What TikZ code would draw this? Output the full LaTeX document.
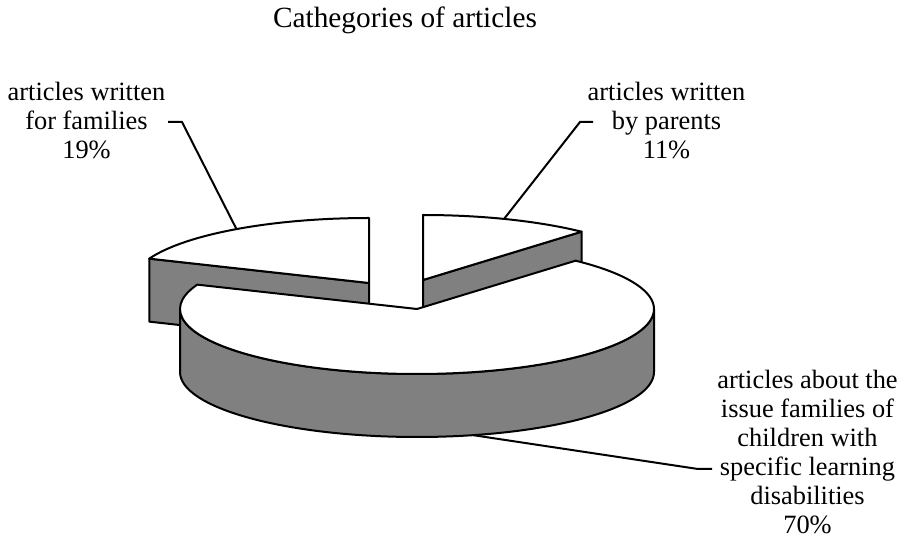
\documentclass[tikz,border=0pt]{standalone}
\usepackage{fontspec}
\setmainfont{Liberation Serif}
\usetikzlibrary{calc}
\definecolor{sidegray}{RGB}{128,128,128}
\begin{document}
\begin{tikzpicture}[x=0.75pt,y=0.75pt,
  edge/.style={line width=1.5pt, line join=round},
  sidef/.style={edge, fill=sidegray},
  topf/.style={edge, fill=white},
  leader/.style={line width=1.5pt, line join=miter},
  lbl/.style={align=center, inner sep=0pt, anchor=base, font=\fontsize{19.8}{21.75}\selectfont},
  ttl/.style={inner sep=0pt, anchor=base, font=\fontsize{22}{26}\selectfont},
  er/.style={x radius=237, y radius=65}
]
\useasboundingbox (0,0) rectangle (908,539);

% slice centres (top and bottom)
\coordinate (B)   at (417,230);
\coordinate (Bl)  at (417,167);
\coordinate (C1)  at (369,256);
\coordinate (C1l) at (369,193);
\coordinate (C2)  at (423,259);
\coordinate (C2l) at (423,196);

% 19% slice
\draw[sidef] (C1) -- ($(C1)+(158:237 and 65)$) -- ($(C1l)+(158:237 and 65)$) -- (C1l) -- cycle;
\draw[topf] (C1) -- ($(C1)+(90:237 and 65)$) arc[start angle=90, end angle=158, er] -- cycle;

% 11% slice
\draw[sidef] (C2) -- ($(C2)+(48:237 and 65)$) -- ($(C2l)+(48:237 and 65)$) -- (C2l) -- cycle;
\draw[topf] (C2) -- ($(C2)+(48:237 and 65)$) arc[start angle=48, end angle=90, er] -- cycle;

% 70% slice
\draw[sidef] ($(B)+(0:237 and 65)$) arc[start angle=0, end angle=-180, er]
  -- ($(Bl)+(180:237 and 65)$) arc[start angle=180, end angle=360, er] -- cycle;
\draw[topf] (B) -- ($(B)+(48:237 and 65)$) arc[start angle=48, end angle=-202, er] -- cycle;

% labels (base anchor = baseline of the last line)
\node[ttl] (title) at (405,511) {Cathegories of articles};
\node[lbl] (t19) at (86.5,380) {articles written\\for families\\19\%};
\node[lbl] (t11) at (666.5,380) {articles written\\by parents\\11\%};
\node[lbl] (t70) at (807.5,5) {articles about the\\issue families of\\children with\\specific learning\\disabilities\\70\%};

% leader lines
\coordinate (a19) at (168,417);
\coordinate (b19) at (182,417);
\coordinate (p19) at ($(C1)+(124:237 and 65)$);
\draw[leader] (a19) -- (b19) -- (p19);

\coordinate (a11) at (593,417);
\coordinate (b11) at (580,417);
\coordinate (p11) at ($(C2)+(70:237 and 65)$);
\draw[leader] (a11) -- (b11) -- (p11);

\coordinate (p70) at ($(Bl)+(-76.3:237 and 65)$);
\coordinate (b70) at (698,70);
\coordinate (a70) at (712,70);
\draw[leader] (p70) -- (b70) -- (a70);
\end{tikzpicture}
\end{document}
